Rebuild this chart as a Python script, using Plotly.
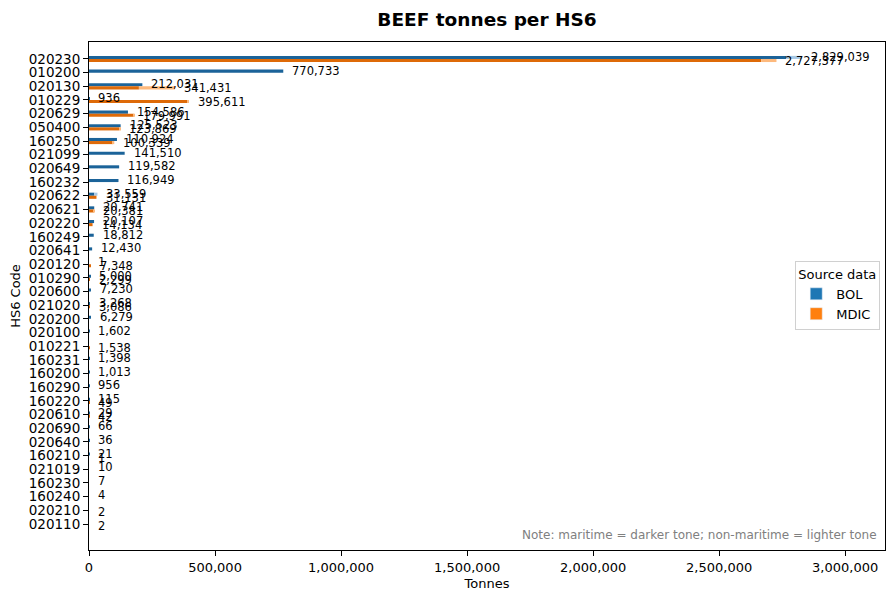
import plotly.graph_objects as go

# HS6 codes, sorted by BOL + MDIC total (top row first)
hs6_codes = ["020230", "010200", "020130", "010229", "020629", "050400", "160250",
             "021099", "020649", "160232", "020622", "020621", "020220", "160249",
             "020641", "020120", "010290", "020600", "021020", "020200", "020100",
             "010221", "160231", "160200", "160290", "160220", "020610", "020690",
             "020640", "160210", "021019", "160230", "160240", "020210", "020110"]

# tonnes by source, split maritime / non-maritime (None = no record)
bol_maritime = [2766000, 770733, 210500, 936, 154586, 125523, 110924,
                141510, 119582, 116949, 21000, 20741, 20107, 18812,
                12430, 1, 5000, 7230, 3268, 6279, 1602,
                None, 1398, 1013, 956, 115, 29, 66,
                36, 21, 10, 7, 4, None, None]
bol_non_maritime = [63039, 0, 1531, 0, 0, 0, 0,
                    0, 0, 0, 12559, 0, 0, 0,
                    0, 0, 0, 0, 0, 0, 0,
                    None, 0, 0, 0, 0, 0, 0,
                    0, 0, 0, 0, 0, None, None]
mdic_maritime = [2667000, None, 198000, 392000, 177000, 119500, 95000,
                 None, None, None, 28500, 19500, 14134, None,
                 None, 7348, 2299, None, 3086, None, None,
                 1538, None, None, None, 49, 42, None,
                 None, 1, None, None, None, 2, 2]
mdic_non_maritime = [60377, None, 143431, 3611, 2991, 4369, 5339,
                     None, None, None, 2631, 881, 0, None,
                     None, 0, 0, None, 0, None, None,
                     0, None, None, None, 0, 0, None,
                     None, 0, None, None, None, 0, 0]

x_ticks = [0, 500000, 1000000, 1500000, 2000000, 2500000, 3000000]

FONT = "DejaVu Sans"
BOL_DARK, BOL_LIGHT = "#1b6399", "#a6c8e6"
MDIC_DARK, MDIC_LIGHT = "#de6a08", "#fdb97d"


def totals(mar, non):
    return [None if m is None else m + (n or 0) for m, n in zip(mar, non)]


bol_total = totals(bol_maritime, bol_non_maritime)
mdic_total = totals(mdic_maritime, mdic_non_maritime)

fig = go.Figure()

for group, mar, non, dark, light in [("BOL", bol_maritime, bol_non_maritime, BOL_DARK, BOL_LIGHT),
                                     ("MDIC", mdic_maritime, mdic_non_maritime, MDIC_DARK, MDIC_LIGHT)]:
    fig.add_trace(go.Bar(
        y=hs6_codes, x=mar, orientation="h", offsetgroup=group,
        marker=dict(color=dark, line=dict(width=0)), showlegend=False,
        name=group + " maritime"))
    fig.add_trace(go.Bar(
        y=hs6_codes, x=non, base=[m or 0 for m in mar], orientation="h", offsetgroup=group,
        marker=dict(color=light, line=dict(width=0)), showlegend=False,
        name=group + " non-maritime"))

# legend swatches
fig.add_trace(go.Bar(y=[hs6_codes[0]], x=[None], orientation="h", offsetgroup="BOL",
                     marker_color="#1f77b4", name="BOL"))
fig.add_trace(go.Bar(y=[hs6_codes[0]], x=[None], orientation="h", offsetgroup="MDIC",
                     marker_color="#ff7f0e", name="MDIC"))

# value labels at the end of each stacked bar (y given as category index)
annotations = []
for row, (bt, mt) in enumerate(zip(bol_total, mdic_total)):
    for total, shift in [(bt, 2), (mt, -2)]:
        if total is None:
            continue
        annotations.append(dict(
            x=total, y=row, xref="x", yref="y", text=f"{total:,}",
            showarrow=False, xanchor="left", yanchor="middle",
            xshift=7, yshift=shift, font=dict(family=FONT, size=11.5, color="black")))

annotations.append(dict(
    x=0.992, y=0.012, xref="paper", yref="paper", xanchor="right", yanchor="bottom",
    text="Note: maritime = darker tone; non-maritime = lighter tone", showarrow=False,
    font=dict(family=FONT, size=12, color="#808080")))

# page body adds an 8px margin, so the figure is sized to fit the 895x600 window
fig.update_layout(
    width=887, height=592,
    margin=dict(l=81, r=10, t=34, b=50),
    paper_bgcolor="white", plot_bgcolor="white",
    font=dict(family=FONT, size=13, color="black"),
    barmode="group", bargap=0.55, bargroupgap=0,
    title=dict(text="<b>BEEF tonnes per HS6</b>", x=0.54, xanchor="center",
               y=0.981, yanchor="middle", yref="container",
               font=dict(family=FONT, size=18.5, color="black")),
    legend=dict(title=dict(text="Source data", font=dict(size=13)),
                x=0.994, xanchor="right", y=0.569, yanchor="top",
                bgcolor="white", bordercolor="#d0d0d0", borderwidth=1,
                font=dict(family=FONT, size=13)),
    annotations=annotations,
)

fig.update_xaxes(
    range=[0, 3158000], tickvals=x_ticks, tickformat=",d", automargin=False,
    showgrid=False, zeroline=False,
    showline=True, linecolor="black", linewidth=1, mirror=True,
    ticks="outside", ticklen=5, tickcolor="black",
    tickfont=dict(size=13),
    title=dict(text="Tonnes", standoff=5, font=dict(size=13)))

fig.update_yaxes(
    type="category", categoryorder="array", categoryarray=hs6_codes,
    tickmode="array", tickvals=hs6_codes, ticktext=hs6_codes, automargin=False,
    range=[35.9, -1.24], showgrid=False, zeroline=False,
    showline=True, linecolor="black", linewidth=1, mirror=True,
    ticks="outside", ticklen=5, tickcolor="black",
    tickfont=dict(size=13.5),
    title=dict(text="HS6 Code", standoff=6, font=dict(size=13)))

fig.write_html("out.html")
